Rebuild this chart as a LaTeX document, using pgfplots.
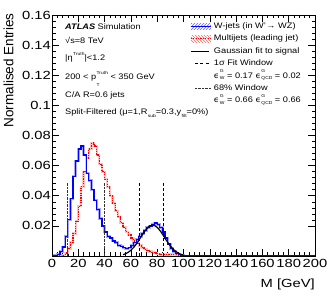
\documentclass[border=0pt]{standalone}
\usepackage{fontspec}
\setmainfont{Liberation Sans}[FakeStretch=1.15]
\newfontfamily\plainsans{Liberation Sans}
\newfontfamily\ticksans{Liberation Sans}[FakeStretch=1.25]
\newfontfamily\dejavu{DejaVu Sans}[FakeStretch=1.1]
\usepackage{pgfplots}
\pgfplotsset{compat=1.18}
\usetikzlibrary{patterns}
\newcommand{\eps}{{\dejavu ϵ}}
% \sscr{raise sup}{raise sub}{sup}{sub}
\newcommand{\sscr}[4]{{\kern0.5pt\fontsize{4.3}{5}\selectfont
  \setbox0\hbox{\raisebox{#1}{#3}}\setbox2\hbox{\raisebox{#2}{#4}}%
  \dimen0=\wd0 \ifdim\wd2>\dimen0 \dimen0=\wd2\fi
  \rlap{\box0}\rlap{\box2}\kern\dimen0}}
\newcommand{\ssc}[2]{\sscr{5.2pt}{-6.3pt}{#1}{#2}}
\newcommand{\sub}[1]{\sscr{0pt}{-2.8pt}{}{#1}}
\newcommand{\ssl}[2]{\sscr{5.2pt}{-1.6pt}{#1}{#2}}
\begin{document}
\begin{tikzpicture}
\path[use as bounding box] (-52pt,-49pt) rectangle (280pt,256pt);
\begin{axis}[
  width=263pt, height=241pt, scale only axis,
  xmin=0, xmax=200, ymin=0, ymax=0.16,
  xtick={0,20,...,200},
  ytick={0.02,0.04,0.06,0.08,0.1,0.12,0.14,0.16},
  minor x tick num=4, minor y tick num=4,
  tick align=inside, major tick length=7pt, minor tick length=3.5pt,
  axis line style={line width=0.6pt},
  every tick/.style={black, line width=0.5pt},
  scaled y ticks=false,
  yticklabel style={/pgf/number format/fixed, /pgf/number format/precision=2, inner xsep=1pt},
  /pgf/number format/assume math mode=true,
  tick label style={font=\ticksans\fontsize{11.8}{12}\selectfont},
  xlabel={M [GeV]},
  xlabel style={at={(axis description cs:1,0)}, anchor=north east, inner sep=0pt, yshift=-22.5pt, font=\ticksans\fontsize{11.8}{12}\selectfont},
  ylabel={Normalised Entries},
  ylabel style={at={(axis description cs:-0.185,1.008)}, anchor=north east, inner sep=0pt, font=\plainsans\fontsize{13.5}{14}\selectfont},
  legend style={at={(axis description cs:0.5247,0.969)}, anchor=north west, draw=none, fill=none,
    font=\fontsize{8}{9}\selectfont, inner sep=0pt, row sep=5.1pt,
    nodes={inner sep=0pt, text height=5.8pt, text depth=1.5pt},
    /tikz/every odd column/.append style={column sep=2.6pt}},
  legend cell align=left,
]
% error-band imitation
\addplot[const plot, blue!35, line width=2.4pt, forget plot] coordinates {
(0,0) (2,0.0005) (4,0.001) (6,0.003) (8,0.006) (10,0.013) (12,0.024) (14,0.038) (16,0.053) (18,0.063)
(20,0.071) (22,0.073) (24,0.067) (26,0.055) (28,0.050) (30,0.044) (32,0.037) (34,0.031) (36,0.025) (38,0.020)
(40,0.016) (42,0.013) (44,0.012) (46,0.010) (48,0.009) (50,0.007) (52,0.0065) (54,0.0055) (56,0.005) (58,0.0055)
(60,0.007) (62,0.009) (64,0.011) (66,0.013) (68,0.015) (70,0.017) (72,0.019) (74,0.020) (76,0.021) (78,0.022)
(80,0.021) (82,0.019) (84,0.016) (86,0.012) (88,0.008) (90,0.005) (92,0.003) (94,0.0015) (96,0.0008) (98,0.0003)
(100,0) (200,0)};
\addplot[const plot, red!25, line width=2.2pt, forget plot] coordinates {
(0,0) (8,0.0005) (10,0.002) (12,0.005) (14,0.009) (16,0.015) (18,0.023) (20,0.033) (22,0.046) (24,0.056) (26,0.065)
(28,0.071) (30,0.075) (32,0.073) (34,0.067) (36,0.061) (38,0.056) (40,0.051) (42,0.046) (44,0.040) (46,0.035)
(48,0.030) (50,0.026) (52,0.022) (54,0.019) (56,0.016) (58,0.014) (60,0.012) (62,0.010) (64,0.0085) (66,0.007)
(68,0.0055) (70,0.0045) (72,0.0035) (74,0.003) (76,0.0025) (78,0.002) (80,0.0015) (82,0.001) (94,0.001) (96,0.0005) (98,0)};
% multijets
\addplot[const plot, red, line width=1.2pt, dash pattern=on 1.2pt off 1.2pt, forget plot] coordinates {
(0,0) (8,0.0005) (10,0.002) (12,0.005) (14,0.009) (16,0.015) (18,0.023) (20,0.033) (22,0.046) (24,0.056) (26,0.065)
(28,0.071) (30,0.075) (32,0.073) (34,0.067) (36,0.061) (38,0.056) (40,0.051) (42,0.046) (44,0.040) (46,0.035)
(48,0.030) (50,0.026) (52,0.022) (54,0.019) (56,0.016) (58,0.014) (60,0.012) (62,0.010) (64,0.0085) (66,0.007)
(68,0.0055) (70,0.0045) (72,0.0035) (74,0.003) (76,0.0025) (78,0.002) (80,0.0015) (82,0.001) (94,0.001) (96,0.0005) (98,0)};
% W jets
\addplot[const plot, blue, line width=1.3pt, forget plot] coordinates {
(0,0) (2,0.0005) (4,0.001) (6,0.003) (8,0.006) (10,0.013) (12,0.024) (14,0.038) (16,0.053) (18,0.063)
(20,0.071) (22,0.073) (24,0.067) (26,0.055) (28,0.050) (30,0.044) (32,0.037) (34,0.031) (36,0.025) (38,0.020)
(40,0.016) (42,0.013) (44,0.012) (46,0.010) (48,0.009) (50,0.007) (52,0.0065) (54,0.0055) (56,0.005) (58,0.0055)
(60,0.007) (62,0.009) (64,0.011) (66,0.013) (68,0.015) (70,0.017) (72,0.019) (74,0.020) (76,0.021) (78,0.022)
(80,0.021) (82,0.019) (84,0.016) (86,0.012) (88,0.008) (90,0.005) (92,0.003) (94,0.0015) (96,0.0008) (98,0.0003)
(100,0) (200,0)};
% Gaussian fit
\addplot[black, line width=1.2pt, smooth, forget plot] coordinates {
(54,0.00090) (56,0.00153) (58,0.00248) (60,0.00382) (62,0.00560) (64,0.00781) (66,0.01038) (68,0.01312)
(70,0.01579) (72,0.01809) (74,0.01972) (76,0.02047) (78,0.02022) (80,0.01901) (82,0.01701) (84,0.01449)
(86,0.01174) (88,0.00906) (90,0.00666) (92,0.00465) (94,0.00310) (96,0.00196) (98,0.00118) (100,0.00068)};
% windows
\addplot[black, line width=1pt, dash pattern=on 3pt off 2pt, forget plot] coordinates {(66.5,0) (66.5,0.049)};
\addplot[black, line width=1pt, dash pattern=on 3pt off 2pt, forget plot] coordinates {(85,0) (85,0.049)};
\addplot[black!80, line width=0.6pt, dash pattern=on 0.6pt off 0.8pt, forget plot] coordinates {(12,0) (12,0.049)};
\addplot[black!80, line width=0.6pt, dash pattern=on 0.6pt off 0.8pt, forget plot] coordinates {(39.5,0) (39.5,0.049)};
% legend
\addlegendimage{legend image code/.code={
  \draw[pattern=north east lines, pattern color=blue!60, draw=none] (0pt,-3.3pt) rectangle (20pt,3.3pt);
  \draw[blue, line width=1.2pt] (0pt,0pt) -- (20pt,0pt);}}
\addlegendentry{W-jets (in W'\kern0.5pt→ WZ)}
\addlegendimage{legend image code/.code={
  \draw[pattern=north west lines, pattern color=red!60, draw=none] (0pt,-3.3pt) rectangle (20pt,3.3pt);
  \draw[red, line width=1.1pt, dash pattern=on 1.2pt off 1.2pt] (0pt,0pt) -- (20pt,0pt);}}
\addlegendentry{Multijets (leading jet)}
\addlegendimage{legend image code/.code={\draw[black, line width=1.1pt] (0pt,0pt) -- (18pt,0pt);}}
\addlegendentry{Gaussian fit to signal}
\addlegendimage{legend image code/.code={\draw[black, line width=1pt, dash pattern=on 3pt off 2.5pt] (4pt,0pt) -- (20pt,0pt);}}
\addlegendentry{1σ Fit Window}
\addlegendimage{empty legend}
\addlegendentry{\eps\ssl{G}{W} = 0.17 \eps\ssl{G}{QCD} = 0.02}
\addlegendimage{legend image code/.code={\draw[black!80, line width=0.6pt, dash pattern=on 0.6pt off 0.8pt] (4pt,0pt) -- (20pt,0pt);}}
\addlegendentry{68\% Window}
\addlegendimage{empty legend}
\addlegendentry{\eps\ssl{G}{W} = 0.66 \eps\ssl{G}{QCD} = 0.66}
\end{axis}
\begin{scope}[every node/.style={anchor=base west, inner sep=0pt, font=\fontsize{8}{9}\selectfont}]
\node at (13pt,226pt) {{\bfseries\itshape ATLAS} Simulation};
\node at (13pt,212.7pt) {√s=8 TeV};
\node at (13pt,195pt) {|η\sscr{5.2pt}{0pt}{Truth}{}|<1.2};
\node at (13pt,176pt) {200 < p\ssc{Truth}{T} < 350 GeV};
\node at (13pt,158.3pt) {C/A R=0.6 jets};
\node at (13pt,141pt) {Split-Filtered (μ=1,R\sub{sub}=0.3,y\sub{filt}=0\%)};
\end{scope}
\end{tikzpicture}
\end{document}
